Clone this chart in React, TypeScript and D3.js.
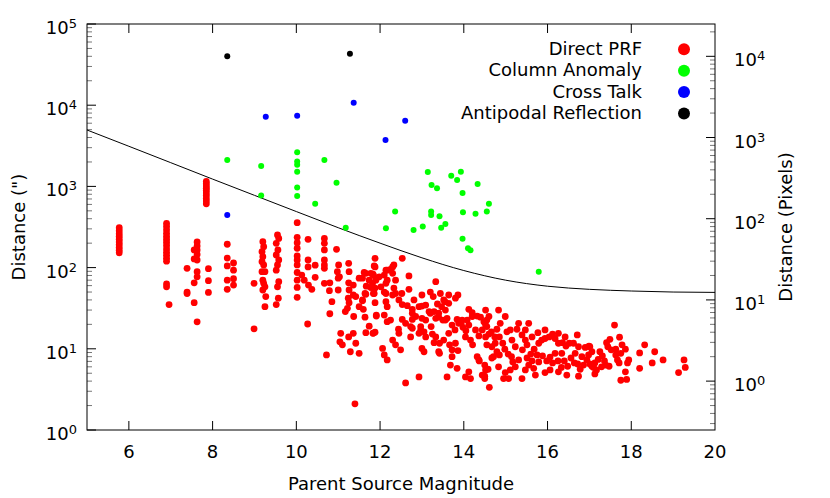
import React from 'react';
import * as d3 from 'd3';

// [magnitude, distance in arcsec]
const directPrf: [number, number][] = [
  [5.77, 310], [5.77, 285], [5.77, 262], [5.77, 242], [5.77, 224], [5.77, 207], [5.77, 192], [5.77, 177], [5.77, 164], [5.77, 152],
  [6.9, 350], [6.9, 320], [6.9, 292], [6.9, 265], [6.9, 242], [6.9, 222], [6.9, 204], [6.9, 187], [6.9, 170], [6.9, 155], [6.9, 142], [6.9, 130], [6.9, 120], [6.9, 63], [6.9, 58], [6.96, 35],
  [7.39, 98], [7.39, 50], [7.39, 48], [7.63, 207], [7.63, 185], [7.63, 165], [7.63, 145], [7.63, 124], [7.56, 165], [7.56, 128], [7.63, 89], [7.63, 77], [7.56, 65], [7.56, 37], [7.63, 21.5], [7.9, 97], [7.9, 69], [7.9, 49.5],
  [7.85, 1150], [7.85, 1080], [7.85, 1010], [7.85, 950], [7.85, 890], [7.85, 830], [7.85, 770], [7.85, 710], [7.85, 660], [7.85, 610],
  [8.35, 194], [8.35, 131], [8.35, 105], [8.35, 70], [8.35, 54], [8.5, 114], [8.5, 93], [8.5, 73], [8.5, 61],
  [8.99, 64], [8.99, 17.6],
  [9.2, 208], [9.22, 181], [9.18, 157], [9.2, 136], [9.18, 118], [9.22, 108], [9.18, 89], [9.25, 89], [9.2, 70], [9.22, 64], [9.25, 58], [9.2, 53], [9.27, 44], [9.25, 33],
  [9.55, 252], [9.58, 229], [9.52, 199], [9.56, 165], [9.52, 143], [9.58, 124], [9.55, 108], [9.52, 93], [9.58, 67], [9.55, 58], [9.57, 42], [9.52, 35],
  [10.02, 357], [10.02, 236], [10.02, 203], [10.02, 173], [10.02, 139], [10.02, 124], [10.02, 108], [10.02, 87], [10.02, 70], [10.02, 57], [10.02, 43],
  [10.28, 223], [10.28, 124], [10.28, 102], [10.45, 107], [10.45, 76], [10.27, 20.2], [10.13, 81], [10.19, 70], [10.29, 61], [10.37, 54],
  [10.67, 229], [10.67, 199], [10.67, 165], [10.67, 124], [10.67, 108], [10.67, 98], [10.67, 64], [10.96, 168], [10.8, 65], [10.79, 52], [10.85, 38], [10.8, 27], [10.72, 8.4], [11.0, 53],
  [11.01, 108], [10.98, 89], [11.03, 77], [11.0, 74], [11.25, 113], [11.26, 89], [11.25, 65], [11.36, 61], [11.36, 46], [11.24, 42], [11.26, 37], [11.17, 28.7], [11.37, 25], [11.06, 15.5], [11.04, 12.2], [11.1, 11.2], [11.25, 14], [11.36, 15.5], [11.42, 11.7], [11.29, 9.2], [11.5, 8.8], [11.4, 2.1],
  [11.5, 74], [11.62, 87], [11.74, 70], [11.83, 83], [11.88, 102], [11.78, 57], [11.66, 47], [11.58, 39], [11.6, 30.6], [11.64, 24.5], [11.74, 19], [11.66, 15.8], [11.83, 15.5], [11.91, 26], [11.88, 130], [11.58, 74], [11.78, 85],
  [11.86, 105], [11.84, 81], [11.9, 74], [11.82, 64], [11.88, 56], [11.84, 48], [12.1, 81], [12.14, 64], [12.1, 50], [12.17, 93], [12.25, 95], [12.33, 108], [12.53, 130], [12.3, 85], [12.37, 70], [12.33, 56], [12.3, 46], [12.69, 79], [12.69, 54], [12.52, 48],
  [12.14, 38], [12.17, 33], [12.1, 26], [12.17, 21.6], [12.25, 22.6], [11.88, 37], [11.91, 25.3], [11.84, 15.6], [11.88, 16], [12.45, 40], [12.53, 35], [12.65, 34], [12.77, 30.6], [12.81, 40], [12.53, 23], [12.44, 17.4], [12.77, 23], [12.77, 17.9], [12.73, 14],
  [12.93, 15.5], [12.97, 18.8], [13.0, 33.6], [13.09, 34.6], [13.17, 28.7], [13.2, 50], [13.33, 67], [13.44, 48], [13.52, 40], [13.64, 46], [13.8, 42], [13.2, 27.4], [13.29, 28.7], [13.33, 23.7], [13.4, 24.5], [13.5, 22.6], [13.56, 30], [13.6, 23.7], [13.72, 19.6], [13.79, 17.1],
  [13.22, 18.8], [13.25, 15.2], [13.29, 11.9], [13.42, 11.7], [13.52, 12.8], [13.66, 11.2], [13.72, 9.7], [13.86, 9.5], [13.72, 8.0], [13.68, 6.3], [13.84, 5.75], [13.6, 4.5], [12.93, 4.5], [12.61, 3.8], [14.04, 4.5], [14.12, 5.2], [14.16, 4.3], [14.44, 4.75], [14.5, 4.3],
  [12.06, 10.1], [12.1, 8.4], [12.17, 7.3], [12.37, 11.2], [12.49, 9.7], [13.0, 10.1], [13.05, 9.2], [13.4, 9.2], [13.42, 8.8],
  [13.84, 23], [13.94, 21], [13.98, 18.4], [14.05, 16.7], [14.12, 19.6], [14.08, 22.6], [14.16, 12.8], [14.21, 11.2], [14.32, 8.0], [14.37, 7.1], [14.5, 6.3], [14.52, 5.5], [14.55, 11.2], [14.44, 17.1], [14.36, 14.4], [14.4, 24.5], [14.52, 19.6], [14.55, 22.6], [14.52, 30], [14.2, 27.8], [14.32, 25.3], [14.12, 30.6],
  [13.27, 44], [13.37, 35.6], [13.47, 33], [13.55, 38], [13.64, 36.3], [13.86, 46], [13.96, 22.6], [13.0, 23.7], [12.97, 17.1], [13.05, 16.2], [13.09, 14], [12.85, 25], [12.73, 18.8],
  [14.48, 21.6], [14.55, 18.8], [14.6, 15.2], [14.52, 14], [14.66, 16.2], [14.74, 14], [14.79, 17.4], [14.85, 14], [14.87, 20.6], [14.99, 25], [14.93, 11.7], [14.75, 11.7], [14.67, 10.6], [14.79, 9.2], [14.71, 8.0], [14.85, 8.4], [14.98, 9.9], [15.06, 8.6], [15.14, 8.0], [15.17, 6.9], [15.23, 6.0], [15.11, 5.5], [14.99, 5.1], [14.95, 4.3],
  [14.58, 5.6], [14.5, 4.6], [14.61, 3.35], [14.67, 7.7], [14.36, 7.3], [15.11, 17.1], [15.27, 17.4], [15.39, 14.8], [15.47, 12.8], [15.51, 11.2], [15.4, 9.7], [15.51, 7.7], [15.55, 6.3], [15.47, 5.5], [15.39, 4.3], [15.71, 4.75], [15.94, 5.1],
  [15.6, 8.6], [15.68, 9.9], [15.79, 11.7], [15.77, 15.8], [15.86, 12.8], [15.94, 13.4], [16.04, 14], [16.12, 15.2], [16.18, 13.4], [16.26, 11.7], [16.36, 11.9], [16.44, 10.8], [16.52, 11.7], [16.62, 11.7], [16.71, 14.8], [16.74, 10.6], [16.9, 10.4], [16.99, 10.8], [17.06, 9.2],
  [15.63, 7.1], [15.79, 6.9], [15.75, 8.4], [15.88, 8.2], [15.98, 7.1], [16.06, 7.9], [16.12, 6.7], [16.25, 7.1], [16.33, 5.9], [16.4, 7.1], [16.48, 6.1], [16.56, 7.7], [16.64, 6.7], [16.72, 6.5], [16.78, 5.6], [16.86, 6.3], [16.94, 7.3], [17.01, 6.5], [17.1, 5.9], [17.17, 5.5],
  [16.06, 5.5], [16.26, 5.2], [16.46, 4.75], [16.74, 4.6],
  [17.6, 19.6], [17.41, 11.9], [17.49, 13.1], [17.44, 10.6], [17.52, 9.7], [17.72, 13.9], [17.78, 11.2], [17.63, 9.9], [17.75, 8.8], [17.86, 9.9], [17.01, 10.6], [16.98, 8.4],
  [17.25, 9.2], [17.31, 8.2], [17.36, 7.1], [17.21, 7.4], [17.39, 6.3], [17.47, 6.1], [17.29, 6.0], [17.13, 6.7], [17.06, 6.1], [17.13, 4.9],
  [17.63, 8.4], [17.67, 7.3], [17.71, 6.7], [17.94, 7.3], [17.91, 6.7], [17.86, 5.2], [17.75, 4.1], [17.89, 4.2],
  [18.2, 8.9], [18.32, 11.2], [18.56, 9.2], [18.2, 5.75], [18.5, 6.7], [18.76, 7.3], [19.26, 7.3], [19.29, 5.9], [19.13, 5.1],
  // denser core
  [11.66, 85], [11.67, 59], [11.8, 57], [11.9, 70], [11.86, 48], [11.64, 48], [11.58, 40], [11.98, 77], [12.14, 93], [12.17, 70],
  [12.3, 102], [12.37, 48], [12.14, 48], [12.02, 58], [11.5, 33], [11.42, 44], [11.26, 53], [11.22, 31.5],
  [12.77, 27.4], [12.93, 33], [13.09, 22.6], [13.4, 27.4], [13.56, 22.6], [13.33, 14], [13.64, 15.5], [13.88, 20.6], [14.04, 14], [13.8, 11.7],
  [14.2, 25], [14.28, 17.1], [13.0, 46], [12.61, 20.6], [12.45, 15.5], [12.3, 12.8],
  [15.15, 12.8], [15.23, 10.6], [15.31, 20.6], [15.47, 17.1], [15.63, 14], [15.55, 20.6], [15.94, 17.1], [16.26, 15.5], [16.42, 14],
  [16.34, 8.8], [16.18, 8.8], [16.66, 8.8], [16.82, 8.0], [14.83, 30], [14.6, 25], [15.03, 16.2], [15.31, 7.3], [14.83, 6.0], [15.07, 4.3], [15.67, 5.75],
];

const columnAnomaly: [number, number][] = [
  [8.35, 2110], [9.16, 1780], [9.16, 770], [10.02, 2640], [10.02, 2030], [10.02, 1850], [10.02, 1520], [10.02, 970], [10.02, 760],
  [10.67, 2110], [10.96, 1110], [10.45, 610], [11.18, 310], [12.14, 305], [12.36, 490], [12.8, 290], [13.02, 320],
  [13.14, 1500], [13.23, 1040], [13.36, 950], [13.22, 490], [13.22, 445], [13.42, 430], [13.46, 310], [13.56, 345],
  [13.7, 1350], [13.84, 1200], [13.93, 1520], [13.97, 830], [13.98, 480], [13.97, 226], [14.1, 173], [14.16, 163],
  [14.28, 460], [14.33, 1070], [14.55, 490], [14.6, 610], [15.79, 89],
];

const crossTalk: [number, number][] = [
  [8.35, 445], [9.27, 7200], [10.02, 7440], [11.37, 10700], [12.13, 3730], [12.6, 6430],
];

const antipodal: [number, number][] = [
  [8.35, 40000], [11.28, 43000],
];

// limit curve
const limitCurve: [number, number][] = [
  [5, 4950], [6, 3120], [7, 1960], [8, 1230], [9, 776], [10, 490], [11, 310], [12, 200],
  [13, 132], [14, 92], [15, 70], [16, 59], [17, 54], [18, 51.5], [19, 50], [20, 49.5],
];

const xTicks = [6, 8, 10, 12, 14, 16, 18, 20];
const yDecades = [0, 1, 2, 3, 4, 5];
const pixDecades = [0, 1, 2, 3, 4];
const arcsecPerPixel = 4;

const legend = [
  { label: 'Direct PRF', color: '#ff0000' },
  { label: 'Column Anomaly', color: '#00ff00' },
  { label: 'Cross Talk', color: '#0000ff' },
  { label: 'Antipodal Reflection', color: '#000000' },
];

const width = 830;
const height = 498;
const left = 87;
const right = 715;
const top = 24;
const bottom = 430;
const font = 'DejaVu Sans, sans-serif';

const App = () => {
  const x = d3.scaleLinear().domain([5, 20]).range([left, right]);
  const y = d3.scaleLog().domain([1, 1e5]).range([bottom, top]);
  const yPix = d3.scaleLog().domain([1 / arcsecPerPixel, 1e5 / arcsecPerPixel]).range([bottom, top]);

  const line = d3.line<[number, number]>()
    .x(d => x(d[0]))
    .y(d => y(d[1]))
    .curve(d3.curveMonotoneX);

  const minorLeft: number[] = [];
  for (let e = 0; e < 5; e++) for (let k = 2; k <= 9; k++) minorLeft.push(k * Math.pow(10, e));

  const minorRight: number[] = [];
  for (let e = -1; e < 5; e++) for (let k = 2; k <= 9; k++) {
    const v = k * Math.pow(10, e);
    if (v >= 0.25 && v <= 25000) minorRight.push(v);
  }

  const dots = (data: [number, number][], color: string, r: number) =>
    data.map((d, i) => (
      <circle key={color + i} cx={x(d[0])} cy={y(d[1])} r={r} fill={color} />
    ));

  return (
    <svg width={width} height={height} style={{ position: 'absolute', left: 0, top: 0, background: '#fff' }} fontFamily={font}>
      <rect x={0} y={0} width={width} height={height} fill="#fff" />

      {/* ticks */}
      <g stroke="#000" strokeWidth={1}>
        {xTicks.filter(t => t < 20).map(t => (
          <g key={'xt' + t}>
            <line x1={x(t)} x2={x(t)} y1={bottom} y2={bottom - 9} />
            <line x1={x(t)} x2={x(t)} y1={top} y2={top + 9} />
          </g>
        ))}
        {yDecades.map(e => (
          <line key={'yl' + e} x1={left} x2={left + 9} y1={y(Math.pow(10, e))} y2={y(Math.pow(10, e))} />
        ))}
        {pixDecades.map(e => (
          <line key={'yr' + e} x1={right} x2={right - 9} y1={yPix(Math.pow(10, e))} y2={yPix(Math.pow(10, e))} />
        ))}
      </g>
      <g stroke="#777" strokeWidth={1}>
        {minorLeft.map(v => (
          <line key={'ml' + v} x1={left} x2={left + 5} y1={y(v)} y2={y(v)} />
        ))}
        {minorRight.map(v => (
          <line key={'mr' + v} x1={right} x2={right - 5} y1={yPix(v)} y2={yPix(v)} />
        ))}
      </g>

      <path d={line(limitCurve) || ''} fill="none" stroke="#000" strokeWidth={1} />

      {dots(directPrf, '#ff0000', 3.4)}
      {dots(columnAnomaly, '#00ff00', 3)}
      {dots(crossTalk, '#0000ff', 3)}
      {dots(antipodal, '#000000', 3)}

      <rect x={left} y={top} width={right - left} height={bottom - top} fill="none" stroke="#000" strokeWidth={1} />

      {/* tick labels */}
      <g fontSize={18} fill="#000">
        {xTicks.map(t => (
          <text key={'xl' + t} x={x(t)} y={458} textAnchor="middle">{t}</text>
        ))}
        {yDecades.map(e => (
          <text key={'ylab' + e} x={77} y={y(Math.pow(10, e)) + 10} textAnchor="end">
            10<tspan dy={-6} fontSize={13}>{e}</tspan>
          </text>
        ))}
        {pixDecades.map(e => (
          <text key={'yrlab' + e} x={734} y={yPix(Math.pow(10, e)) + 10} textAnchor="start">
            10<tspan dy={-6} fontSize={13}>{e}</tspan>
          </text>
        ))}
        <text x={(left + right) / 2} y={490} textAnchor="middle">Parent Source Magnitude</text>
        <text transform={`translate(25,${(top + bottom) / 2}) rotate(-90)`} textAnchor="middle">Distance (")</text>
        <text transform={`translate(792,${(top + bottom) / 2}) rotate(-90)`} textAnchor="middle">Distance (Pixels)</text>
      </g>

      {/* legend */}
      <g fontSize={18}>
        {legend.map((l, i) => (
          <g key={l.label}>
            <text x={642} y={55 + i * 21.4} textAnchor="end">{l.label}</text>
            <circle cx={684} cy={49.3 + i * 21.4} r={6} fill={l.color} />
          </g>
        ))}
      </g>
    </svg>
  );
};

export default App;
